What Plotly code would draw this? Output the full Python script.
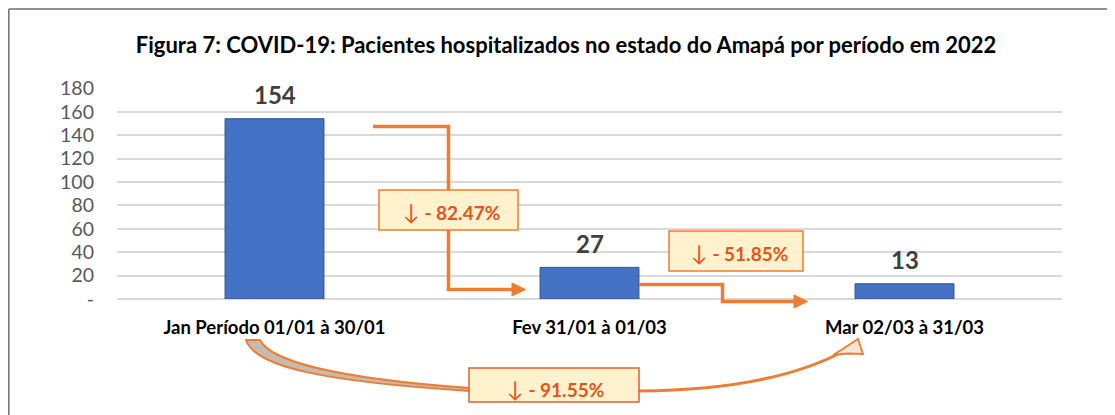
import plotly.graph_objects as go

# ---- data ----
categories = ["Jan Período 01/01 à 30/01", "Fev 31/01 à 01/03", "Mar 02/03 à 31/03"]
patients = [154, 27, 13]
y_tickvals = [0, 20, 40, 60, 80, 100, 120, 140, 160, 180]
y_ticktext = ["-", "20", "40", "60", "80", "100", "120", "140", "160", "180"]
change_labels = ["- 82.47%", "- 51.85%", "- 91.55%"]
title_text = "Figura 7: COVID-19: Pacientes hospitalizados no estado do Amapá por período em 2022"

W, H = 1115, 415
OFF = 8  # page body margin
FONT = "Lato, 'Open Sans', sans-serif"
ORANGE = "#ED7D31"
TXT_OR = "#E8531C"
BOXFILL = "#FFF2CC"


def px(x):
    return (x - OFF) / W


def py(y):
    return 1 - (y - OFF) / H


def path(pts, close=False):
    s = ""
    for i, p in enumerate(pts):
        s += ("M" if i == 0 else " L") + f"{px(p[0]):.5f},{py(p[1]):.5f}"
    return s + (" Z" if close else "")


def cpath(cmds):
    s = ""
    for letter, pts in cmds:
        s += letter + " " + " ".join(f"{px(a):.5f},{py(b):.5f}" for a, b in pts) + " "
    return s.strip()


fig = go.Figure()
fig.add_trace(go.Bar(
    x=categories, y=patients,
    marker=dict(color="#4472C4", line=dict(color="#2F528F", width=1)),
    hoverinfo="skip", showlegend=False,
))

shapes = []
annotations = []

# frame
shapes.append(dict(type="line", xref="paper", yref="paper", x0=px(8.8), y0=py(9), x1=px(1123), y1=py(9),
                   line=dict(color="#6E6E6E", width=1.5)))
shapes.append(dict(type="line", xref="paper", yref="paper", x0=px(8.8), y0=py(9), x1=px(8.8), y1=py(423),
                   line=dict(color="#6E6E6E", width=1.5)))

# connector 1 (elbow)
shapes.append(dict(type="path", xref="paper", yref="paper",
                   path=path([(373, 126.5), (448.5, 126.5), (448.5, 289.5), (514, 289.5)]),
                   line=dict(color=ORANGE, width=3.5)))
shapes.append(dict(type="path", xref="paper", yref="paper",
                   path=path([(512, 283), (525.5, 289.5), (512, 296)], close=True),
                   fillcolor=ORANGE, line=dict(color=ORANGE, width=1)))
# connector 2
shapes.append(dict(type="path", xref="paper", yref="paper",
                   path=path([(639, 284.5), (722.5, 284.5), (722.5, 301.5), (796, 301.5)]),
                   line=dict(color=ORANGE, width=3.5)))
shapes.append(dict(type="path", xref="paper", yref="paper",
                   path=path([(794, 295), (807.5, 301.5), (794, 308)], close=True),
                   fillcolor=ORANGE, line=dict(color=ORANGE, width=1)))

# bottom curved arrow: tail band
shapes.append(dict(type="path", xref="paper", yref="paper",
                   path=cpath([("M", [(246, 340)]), ("L", [(260, 340)]),
                               ("C", [(270, 360), (330, 378), (470, 388)]),
                               ("L", [(470, 391)]),
                               ("C", [(330, 382), (255, 368), (246, 340)]), ("Z", [])]),
                   fillcolor="#C9B9B1", line=dict(color=ORANGE, width=2)))
# shaft to head
shapes.append(dict(type="path", xref="paper", yref="paper",
                   path=cpath([("M", [(639, 391)]), ("Q", [(770, 390), (842, 352)])]),
                   line=dict(color=ORANGE, width=3)))
shapes.append(dict(type="path", xref="paper", yref="paper",
                   path=path([(833, 355), (842, 349.5), (858, 339), (863, 354), (848, 353.5)], close=True),
                   fillcolor="#FBE5D6", line=dict(color=ORANGE, width=1.8)))

# label boxes
boxes = [
    ((379, 190, 518, 230), (451, 211), ORANGE),
    ((669, 231, 803, 271), (739, 252), ORANGE),
    ((469, 368, 639, 402), (555, 388), "#E2602A"),
]
for (x0, y0, x1, y1), (tx, ty), bc in boxes:
    shapes.append(dict(type="rect", xref="paper", yref="paper",
                       x0=px(x0), y0=py(y0), x1=px(x1), y1=py(y1),
                       fillcolor=BOXFILL, line=dict(color=bc, width=1.5)))
for ((x0, y0, x1, y1), (tx, ty), bc), lab in zip(boxes, change_labels):
    annotations.append(dict(xref="paper", yref="paper", x=px(tx), y=py(ty), xanchor="center", yanchor="middle",
                            text=f"<span style='font-size:22px'>↓</span> <b>{lab}</b>", showarrow=False,
                            font=dict(family=FONT, size=19, color=TXT_OR)))

# data labels
for c, v in zip(categories, patients):
    annotations.append(dict(x=c, y=v, xref="x", yref="y", text=f"<b>{v}</b>", showarrow=False,
                            yanchor="middle", yshift=24,
                            font=dict(family=FONT, size=24, color="#404040")))

fig.update_layout(
    width=W, height=H,
    margin=dict(l=0, r=0, t=0, b=0),
    paper_bgcolor="white", plot_bgcolor="white",
    title=dict(text=f"<b>{title_text}</b>", x=px(566), xanchor="center", y=py(45), yanchor="middle",
               font=dict(family=FONT, size=22, color="#000000")),
    bargap=0.686,
    shapes=shapes,
    annotations=annotations,
    xaxis=dict(domain=[px(117), px(1062)], type="category", categoryorder="array", categoryarray=categories,
               showgrid=False, showline=False, zeroline=False, ticks="outside", ticklen=12,
               tickcolor="rgba(0,0,0,0)", automargin=False,
               tickfont=dict(family=FONT, size=18.5, color="#000000"),
               tickvals=categories, ticktext=[f"<b>{c}</b>" for c in categories]),
    yaxis=dict(domain=[py(299), py(88.3)], range=[0, 180], tickvals=y_tickvals, ticktext=y_ticktext,
               showgrid=True, gridcolor="#D9D9D9", gridwidth=1.5, zeroline=True, zerolinecolor="#D9D9D9",
               zerolinewidth=1.5, showline=False, automargin=False, ticklabelstandoff=22,
               tickfont=dict(family=FONT, size=19.5, color="#595959")),
    showlegend=False,
)

fig.write_html("out.html")
